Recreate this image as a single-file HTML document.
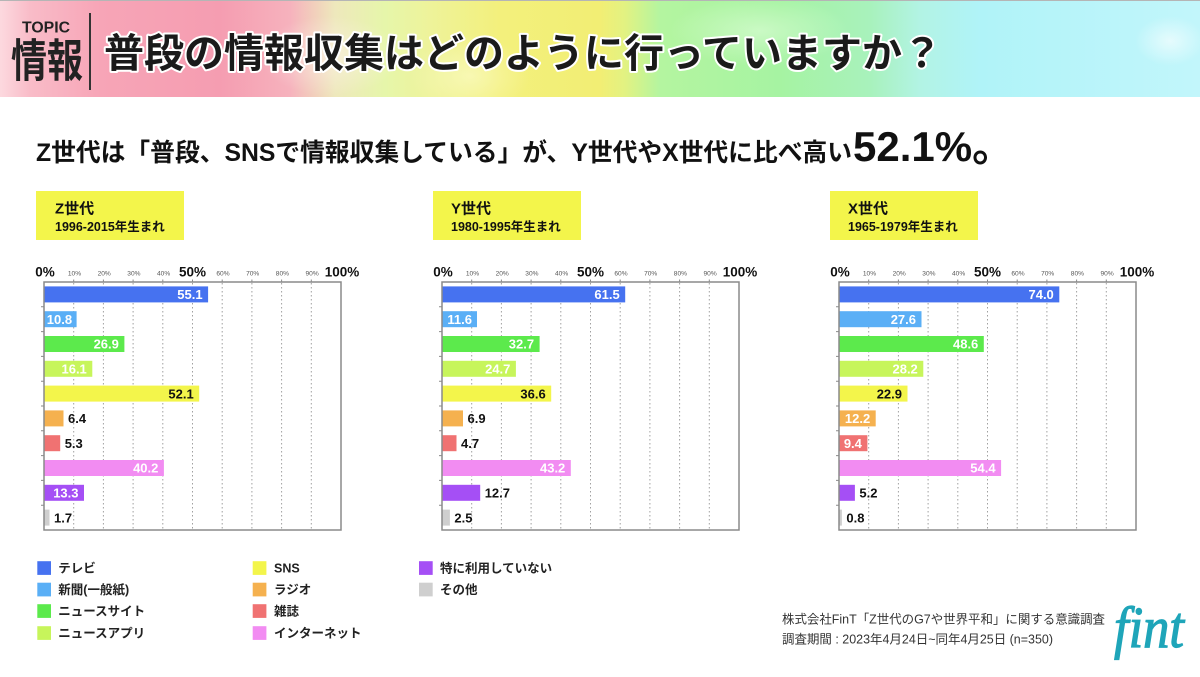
<!DOCTYPE html>
<html><head><meta charset="utf-8">
<style>
*{margin:0;padding:0;box-sizing:border-box}
html,body{width:1200px;height:677px;overflow:hidden;background:#fff}
body{position:relative}
.hdr{position:absolute;left:0;top:0;width:1200px;height:97px;border-top:1px solid #b5b5b5;
background:
radial-gradient(ellipse 35px 25px at 1170px 40px, rgba(255,255,255,.6), rgba(255,255,255,0)),
radial-gradient(ellipse 70px 40px at 330px 55px, rgba(255,245,240,.55), rgba(255,255,255,0)),
radial-gradient(ellipse 90px 35px at 760px 30px, rgba(230,255,225,.55), rgba(255,255,255,0)),
radial-gradient(ellipse 60px 40px at 470px 75px, rgba(255,255,220,.5), rgba(255,255,255,0)),
linear-gradient(90deg,#fcd9df 0px,#f9bcc8 30px,#f7a5b7 100px,#f59db1 220px,#f6b2bd 290px,#eee8bc 335px,#e6f6aa 385px,#eef39a 430px,#f3f07c 500px,#f2ee74 600px,#e2f282 625px,#b4f5a0 660px,#a6f3a2 780px,#a8f2bc 870px,#b2f3e4 920px,#b0f3f8 980px,#c2f6fb 1200px);}
svg{position:absolute;left:0;top:0}
</style></head>
<body>
<div class="hdr"></div>
<svg width="1200" height="677" viewBox="0 0 1200 677" xmlns="http://www.w3.org/2000/svg" style="font-family:'Liberation Sans','Noto Sans CJK JP',sans-serif">
<style>
.c0{fill:#4672F0}.c1{fill:#5AAFF6}.c2{fill:#5CEA4C}.c3{fill:#C7F55B}.c4{fill:#F3F54B}
.c5{fill:#F5B14F}.c6{fill:#F07272}.c7{fill:#F28CF2}.c8{fill:#A54FF5}.c9{fill:#CFCFCF}
.v{font-size:13px;font-weight:700}
.w{fill:#fff;text-anchor:end}.bk{fill:#111;text-anchor:end}.o{fill:#111}
.sm{font-size:6.6px;fill:#555;text-anchor:middle}
.bg{font-size:13.5px;font-weight:700;fill:#111;text-anchor:middle}
.lg{font-size:12.5px;font-weight:700;fill:#222}
.grid{stroke:#a0a0a0;stroke-width:1;stroke-dasharray:1.5 2.5;fill:none}
.frm{fill:none;stroke:#8a8a8a;stroke-width:1.5}
.tk{stroke:#8a8a8a;stroke-width:1;fill:none}
</style>

<!-- Header text -->
<text x="22" y="32.5" font-size="16" font-weight="700" fill="#222" textLength="48" lengthAdjust="spacingAndGlyphs">TOPIC</text>
<text x="11" y="0" font-size="36" font-weight="700" fill="#222" transform="translate(0,76.4) scale(1,1.25)">情報</text>
<rect x="89" y="13" width="2" height="77" fill="#333"/>
<text x="104" y="67.2" font-size="40" font-weight="700" fill="#1a1a1a" stroke="#fff" stroke-width="4" stroke-linejoin="round" paint-order="stroke">普段の情報収集はどのように行っていますか？</text>

<!-- Subtitle -->
<text x="36" y="161" font-size="25" font-weight="700" fill="#111" textLength="816" lengthAdjust="spacingAndGlyphs">Z世代は「普段、SNSで情報収集している」が、Y世代やX世代に比べ高い</text>
<text x="853" y="161" font-size="42" font-weight="700" fill="#111">52.1%。</text>

<!-- Yellow boxes -->
<rect x="36" y="191" width="148" height="49" fill="#F3F54B"/>
<text x="55" y="213.5" font-size="15" font-weight="700" fill="#111">Z世代</text>
<text x="55" y="231.2" font-size="12.5" font-weight="700" fill="#111">1996-2015年生まれ</text>
<rect x="433" y="191" width="148" height="49" fill="#F3F54B"/>
<text x="451" y="213.5" font-size="15" font-weight="700" fill="#111">Y世代</text>
<text x="451" y="231.2" font-size="12.5" font-weight="700" fill="#111">1980-1995年生まれ</text>
<rect x="830" y="191" width="148" height="49" fill="#F3F54B"/>
<text x="848" y="213.5" font-size="15" font-weight="700" fill="#111">X世代</text>
<text x="848" y="231.2" font-size="12.5" font-weight="700" fill="#111">1965-1979年生まれ</text>

<!-- Chart Z -->
<g transform="translate(44,0)">
<path class="grid" d="M29.7 283V529M59.4 283V529M89.1 283V529M118.8 283V529M148.5 283V529M178.2 283V529M207.9 283V529M237.6 283V529M267.3 283V529"/>
<rect class="c0" x="0.5" y="286.4" width="163.6" height="16"/>
<rect class="c1" x="0.5" y="311.2" width="32.1" height="16"/>
<rect class="c2" x="0.5" y="336" width="79.9" height="16"/>
<rect class="c3" x="0.5" y="360.8" width="47.8" height="16"/>
<rect class="c4" x="0.5" y="385.6" width="154.7" height="16"/>
<rect class="c5" x="0.5" y="410.4" width="19" height="16"/>
<rect class="c6" x="0.5" y="435.2" width="15.7" height="16"/>
<rect class="c7" x="0.5" y="460" width="119.4" height="16"/>
<rect class="c8" x="0.5" y="484.8" width="39.5" height="16"/>
<rect class="c9" x="0.5" y="509.6" width="5" height="16"/>
<rect class="frm" x="0" y="282" width="297" height="248"/>
<path class="tk" d="M-3 306.8H0M-3 331.6H0M-3 356.4H0M-3 381.2H0M-3 406H0M-3 430.8H0M-3 455.6H0M-3 480.4H0M-3 505.2H0M29.7 279.5V282M59.4 279.5V282M89.1 279.5V282M118.8 279.5V282M148.5 279.5V282M178.2 279.5V282M207.9 279.5V282M237.6 279.5V282M267.3 279.5V282"/>
<text class="bg" x="1" y="276.5">0%</text>
<text class="bg" x="148.5" y="276.5">50%</text>
<text class="bg" x="298" y="276.5">100%</text>
<text class="sm" x="30.5" y="275.7">10%</text><text class="sm" x="60.2" y="275.7">20%</text><text class="sm" x="89.9" y="275.7">30%</text><text class="sm" x="119.6" y="275.7">40%</text><text class="sm" x="179" y="275.7">60%</text><text class="sm" x="208.7" y="275.7">70%</text><text class="sm" x="238.4" y="275.7">80%</text><text class="sm" x="268.1" y="275.7">90%</text>
<text class="v w" x="158.6" y="299.1">55.1</text>
<text class="v w" x="28.1" y="323.9">10.8</text>
<text class="v w" x="74.9" y="348.7">26.9</text>
<text class="v w" x="42.8" y="373.5">16.1</text>
<text class="v bk" x="149.7" y="398.3">52.1</text>
<text class="v o" x="24" y="423.1">6.4</text>
<text class="v o" x="20.7" y="447.9">5.3</text>
<text class="v w" x="114.4" y="472.7">40.2</text>
<text class="v w" x="34.5" y="497.5">13.3</text>
<text class="v o" x="10" y="522.3">1.7</text>
</g>

<!-- Chart Y -->
<g transform="translate(442,0)">
<path class="grid" d="M29.7 283V529M59.4 283V529M89.1 283V529M118.8 283V529M148.5 283V529M178.2 283V529M207.9 283V529M237.6 283V529M267.3 283V529"/>
<rect class="c0" x="0.5" y="286.4" width="182.7" height="16"/>
<rect class="c1" x="0.5" y="311.2" width="34.5" height="16"/>
<rect class="c2" x="0.5" y="336" width="97.1" height="16"/>
<rect class="c3" x="0.5" y="360.8" width="73.4" height="16"/>
<rect class="c4" x="0.5" y="385.6" width="108.7" height="16"/>
<rect class="c5" x="0.5" y="410.4" width="20.5" height="16"/>
<rect class="c6" x="0.5" y="435.2" width="14" height="16"/>
<rect class="c7" x="0.5" y="460" width="128.3" height="16"/>
<rect class="c8" x="0.5" y="484.8" width="37.7" height="16"/>
<rect class="c9" x="0.5" y="509.6" width="7.4" height="16"/>
<rect class="frm" x="0" y="282" width="297" height="248"/>
<path class="tk" d="M-3 306.8H0M-3 331.6H0M-3 356.4H0M-3 381.2H0M-3 406H0M-3 430.8H0M-3 455.6H0M-3 480.4H0M-3 505.2H0M29.7 279.5V282M59.4 279.5V282M89.1 279.5V282M118.8 279.5V282M148.5 279.5V282M178.2 279.5V282M207.9 279.5V282M237.6 279.5V282M267.3 279.5V282"/>
<text class="bg" x="1" y="276.5">0%</text>
<text class="bg" x="148.5" y="276.5">50%</text>
<text class="bg" x="298" y="276.5">100%</text>
<text class="sm" x="30.5" y="275.7">10%</text><text class="sm" x="60.2" y="275.7">20%</text><text class="sm" x="89.9" y="275.7">30%</text><text class="sm" x="119.6" y="275.7">40%</text><text class="sm" x="179" y="275.7">60%</text><text class="sm" x="208.7" y="275.7">70%</text><text class="sm" x="238.4" y="275.7">80%</text><text class="sm" x="268.1" y="275.7">90%</text>
<text class="v w" x="177.7" y="299.1">61.5</text>
<text class="v w" x="30" y="323.9">11.6</text>
<text class="v w" x="92.1" y="348.7">32.7</text>
<text class="v w" x="68.4" y="373.5">24.7</text>
<text class="v bk" x="103.7" y="398.3">36.6</text>
<text class="v o" x="25.5" y="423.1">6.9</text>
<text class="v o" x="19" y="447.9">4.7</text>
<text class="v w" x="123.3" y="472.7">43.2</text>
<text class="v o" x="42.7" y="497.5">12.7</text>
<text class="v o" x="12.4" y="522.3">2.5</text>
</g>

<!-- Chart X -->
<g transform="translate(839,0)">
<path class="grid" d="M29.7 283V529M59.4 283V529M89.1 283V529M118.8 283V529M148.5 283V529M178.2 283V529M207.9 283V529M237.6 283V529M267.3 283V529"/>
<rect class="c0" x="0.5" y="286.4" width="219.8" height="16"/>
<rect class="c1" x="0.5" y="311.2" width="82" height="16"/>
<rect class="c2" x="0.5" y="336" width="144.3" height="16"/>
<rect class="c3" x="0.5" y="360.8" width="83.8" height="16"/>
<rect class="c4" x="0.5" y="385.6" width="68" height="16"/>
<rect class="c5" x="0.5" y="410.4" width="36.2" height="16"/>
<rect class="c6" x="0.5" y="435.2" width="27.9" height="16"/>
<rect class="c7" x="0.5" y="460" width="161.6" height="16"/>
<rect class="c8" x="0.5" y="484.8" width="15.4" height="16"/>
<rect class="c9" x="0.5" y="509.6" width="2.4" height="16"/>
<rect class="frm" x="0" y="282" width="297" height="248"/>
<path class="tk" d="M-3 306.8H0M-3 331.6H0M-3 356.4H0M-3 381.2H0M-3 406H0M-3 430.8H0M-3 455.6H0M-3 480.4H0M-3 505.2H0M29.7 279.5V282M59.4 279.5V282M89.1 279.5V282M118.8 279.5V282M148.5 279.5V282M178.2 279.5V282M207.9 279.5V282M237.6 279.5V282M267.3 279.5V282"/>
<text class="bg" x="1" y="276.5">0%</text>
<text class="bg" x="148.5" y="276.5">50%</text>
<text class="bg" x="298" y="276.5">100%</text>
<text class="sm" x="30.5" y="275.7">10%</text><text class="sm" x="60.2" y="275.7">20%</text><text class="sm" x="89.9" y="275.7">30%</text><text class="sm" x="119.6" y="275.7">40%</text><text class="sm" x="179" y="275.7">60%</text><text class="sm" x="208.7" y="275.7">70%</text><text class="sm" x="238.4" y="275.7">80%</text><text class="sm" x="268.1" y="275.7">90%</text>
<text class="v w" x="214.8" y="299.1">74.0</text>
<text class="v w" x="77" y="323.9">27.6</text>
<text class="v w" x="139.3" y="348.7">48.6</text>
<text class="v w" x="78.8" y="373.5">28.2</text>
<text class="v bk" x="63" y="398.3">22.9</text>
<text class="v w" x="31.2" y="423.1">12.2</text>
<text class="v w" x="22.9" y="447.9">9.4</text>
<text class="v w" x="156.6" y="472.7">54.4</text>
<text class="v o" x="20.4" y="497.5">5.2</text>
<text class="v o" x="7.4" y="522.3">0.8</text>
</g>

<!-- Legend -->
<rect class="c0" x="37.3" y="561.2" width="13.7" height="13.7"/>
<text class="lg" x="58.3" y="572.5">テレビ</text>
<rect class="c1" x="37.3" y="582.7" width="13.7" height="13.7"/>
<text class="lg" x="58.3" y="594">新聞(一般紙)</text>
<rect class="c2" x="37.3" y="604.2" width="13.7" height="13.7"/>
<text class="lg" x="58.3" y="615.5">ニュースサイト</text>
<rect class="c3" x="37.3" y="626.2" width="13.7" height="13.7"/>
<text class="lg" x="58.3" y="637.5">ニュースアプリ</text>

<rect class="c4" x="252.7" y="561.2" width="13.7" height="13.7"/>
<text class="lg" x="274" y="572.5">SNS</text>
<rect class="c5" x="252.7" y="582.7" width="13.7" height="13.7"/>
<text class="lg" x="274" y="594">ラジオ</text>
<rect class="c6" x="252.7" y="604.2" width="13.7" height="13.7"/>
<text class="lg" x="274" y="615.5">雑誌</text>
<rect class="c7" x="252.7" y="626.2" width="13.7" height="13.7"/>
<text class="lg" x="274" y="637.5">インターネット</text>

<rect class="c8" x="419" y="561.2" width="13.7" height="13.7"/>
<text class="lg" x="440" y="572.5">特に利用していない</text>
<rect class="c9" x="419" y="582.7" width="13.7" height="13.7"/>
<text class="lg" x="440" y="594">その他</text>

<!-- Footer -->
<text x="782" y="623.5" font-size="12.5" fill="#333" textLength="323" lengthAdjust="spacingAndGlyphs">株式会社FinT「Z世代のG7や世界平和」に関する意識調査</text>
<text x="782" y="643.5" font-size="12.5" fill="#333" textLength="271" lengthAdjust="spacingAndGlyphs">調査期間 : 2023年4月24日~同年4月25日 (n=350)</text>
<text x="1114" y="647" font-size="58" font-style="italic" fill="#1fa5b9" stroke="#1fa5b9" stroke-width="1.2" font-family="'Liberation Serif',serif" textLength="70" lengthAdjust="spacingAndGlyphs">fint</text>
</svg>
</body></html>
